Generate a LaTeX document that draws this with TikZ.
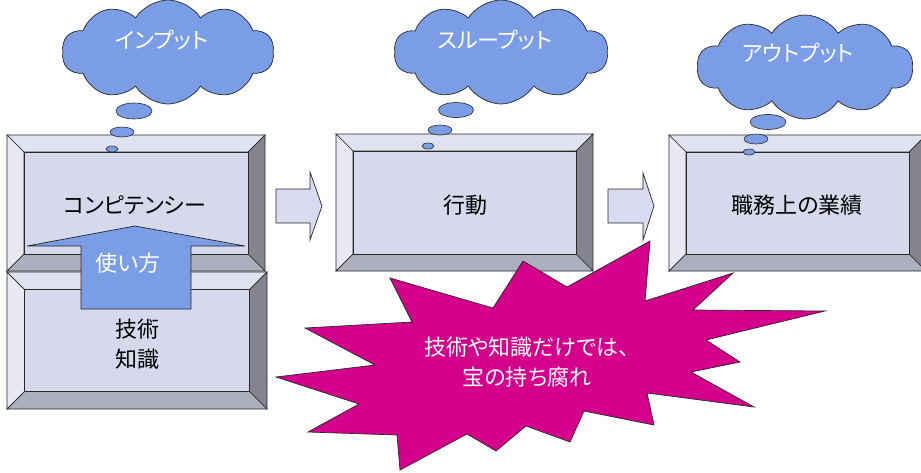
\documentclass[tikz,border=0pt]{standalone}
\usepackage{fontspec}
\setmainfont{Noto Sans CJK JP}[RawFeature=+palt]
\usetikzlibrary{shapes.symbols,shapes.geometric}
\definecolor{facec}{RGB}{214,216,236}
\definecolor{topc}{RGB}{225,226,240}
\definecolor{leftc}{RGB}{233,233,246}
\definecolor{rightc}{RGB}{132,132,144}
\definecolor{botc}{RGB}{174,175,190}
\definecolor{cloudc}{RGB}{123,157,230}
\definecolor{starc}{RGB}{212,0,140}
\definecolor{arrowc}{RGB}{216,218,240}
\definecolor{edgec}{RGB}{40,40,40}
\tikzset{
  bvl/.style={draw=edgec, line width=0.7pt, line join=miter},
  face/.style={bvl, fill=facec, inner sep=0pt},
  lbl/.style={font=\fontsize{22}{30}\selectfont, text=black, inner sep=0pt, align=center},
  wlbl/.style={lbl, text=white},
  cloudbox/.style={cloud, cloud puffs=10, cloud puff arc=115, cloud ignores aspect, draw=edgec, line width=0.7pt, fill=cloudc, inner sep=0pt},
  bubble/.style={ellipse, draw=edgec, line width=0.6pt, fill=cloudc, inner sep=0pt},
  blockarrow/.style={draw=edgec, line width=0.7pt, fill=arrowc, line join=miter},
  burst/.style={draw=edgec, line width=0.7pt, fill=starc, line join=miter}
}
% name, x1, y1, x2, y2, bevel
\newcommand\bevbox[6]{%
  \draw[bvl, fill=topc] (#2,#3) -- (#4,#3) -- ({#4-#6},{#3+#6}) -- ({#2+#6},{#3+#6}) -- cycle;
  \draw[bvl, fill=leftc] (#2,#3) -- ({#2+#6},{#3+#6}) -- ({#2+#6},{#5-#6}) -- (#2,#5) -- cycle;
  \draw[bvl, fill=rightc] (#4,#3) -- (#4,#5) -- ({#4-#6},{#5-#6}) -- ({#4-#6},{#3+#6}) -- cycle;
  \draw[bvl, fill=botc] (#2,#5) -- (#4,#5) -- ({#4-#6},{#5-#6}) -- ({#2+#6},{#5-#6}) -- cycle;
  \node[face, rectangle, minimum width={#4-#2-2*#6}, minimum height={#5-#3-2*#6}] (#1) at ({(#2+#4)/2},{(#3+#5)/2}) {};
}
\begin{document}
\begin{tikzpicture}[x=1pt, y=-1pt]
\clip (0,0) rectangle (921,472);
\fill[white] (0,0) rectangle (921,472);

% bevel boxes
\bevbox{comp}{7}{135}{265}{271}{17}
\bevbox{skill}{7}{272}{267}{409}{17.5}
\bevbox{act}{336}{134}{593}{271}{17}
\bevbox{res}{669}{135}{926}{271}{17}

\node[lbl] (tcomp) at (135,205) {コンピテンシー};
\node[lbl] (tskill) at (137,344) {技術\\知識};
\node[lbl] (tact) at (465,205) {行動};
\node[lbl] (tres) at (797,205) {職務上の業績};

% block arrows
\draw[blockarrow] (276,189) -- (310,189) -- (310,172) -- (322,206) -- (310,240) -- (310,223) -- (276,223) -- cycle;
\draw[blockarrow] (608,189) -- (643,189) -- (643,173) -- (654,206) -- (643,240) -- (643,223) -- (608,223) -- cycle;

% up arrow
\draw[blockarrow, fill=cloudc] (81,309) -- (81,246) -- (27,246) -- (135,226) -- (245,246) -- (191,246) -- (191,309) -- cycle;
\node[wlbl] (tuse) at (128,263) {使い方};

% burst
\draw[burst] (390,278) -- (493,308) -- (523,261) -- (567,287) -- (650,241) -- (645,301) -- (733,273) -- (693,310) -- (825,311) -- (706,340) -- (740,362) -- (691,372) -- (754,407) -- (647,393) -- (654,425) -- (584,411) -- (570,442) -- (526,426) -- (496,451) -- (467,434) -- (400,470) -- (397,435) -- (308,432) -- (359,404) -- (276,377) -- (375,365) -- (305,328) -- (412,322) -- cycle;
\node[wlbl, font=\fontsize{22}{30}\selectfont] (tburst) at (527,362) {技術や知識だけでは、\\宝の持ち腐れ};

% clouds
\node[cloudbox, minimum width=212pt, minimum height=104pt] (c1) at (168,52) {};
\node[cloudbox, minimum width=214pt, minimum height=104pt] (c2) at (501,52) {};
\node[cloudbox, minimum width=216pt, minimum height=104pt] (c3) at (805,67) {};
\node[wlbl] (tc1) at (162,40) {インプット};
\node[wlbl] (tc2) at (495,40) {スループット};
\node[wlbl] (tc3) at (798,53) {アウトプット};

% thought bubbles
\node[bubble, minimum width=36pt, minimum height=16pt] (b11) at (134,111) {};
\node[bubble, minimum width=24pt, minimum height=10pt] (b12) at (122,132) {};
\node[bubble, minimum width=12pt, minimum height=6pt] (b13) at (112,149) {};
\node[bubble, minimum width=35pt, minimum height=15pt] (b21) at (456,110) {};
\node[bubble, minimum width=24pt, minimum height=10pt] (b22) at (440,130) {};
\node[bubble, minimum width=12pt, minimum height=6pt] (b23) at (428,146) {};
\node[bubble, minimum width=36pt, minimum height=15pt] (b31) at (768,122) {};
\node[bubble, minimum width=24pt, minimum height=10pt] (b32) at (756,139) {};
\node[bubble, minimum width=12pt, minimum height=6pt] (b33) at (749,152) {};
\end{tikzpicture}
\end{document}
